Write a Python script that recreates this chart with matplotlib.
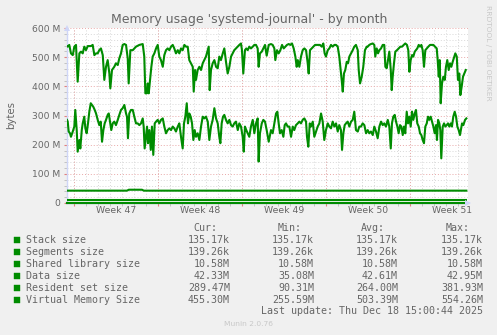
import matplotlib
matplotlib.use("Agg")
import matplotlib.pyplot as plt
import numpy as np
from matplotlib.patches import Rectangle

# ---------------- data (days from left edge of graph, values in MB) ----------------
vms_days = [0.0, 0.06, 0.19, 0.33, 0.48, 0.61, 0.75, 0.89, 1.03, 1.17, 1.31, 1.44, 1.58, 1.73,
            2.0, 2.14, 2.28, 2.42, 2.56, 2.69, 2.83, 2.98, 3.11, 3.25, 3.39, 3.53, 3.61, 3.75,
            3.94, 4.08, 4.23, 4.36, 4.5, 4.64, 4.78, 4.92, 5.06, 5.14, 5.28, 5.48, 5.75, 6.03,
            6.31, 6.44, 6.53, 6.64, 6.73, 6.81, 6.92, 7.03, 7.14, 7.28, 7.42, 7.56, 7.69, 7.83,
            7.98, 8.11, 8.25, 8.39, 8.53, 8.67, 8.81, 8.94, 9.08, 9.23, 9.36, 9.5, 9.64, 9.78,
            9.92, 10.06, 10.19, 10.33, 10.48, 10.56, 10.67, 10.75, 10.89, 11.03, 11.17, 11.31,
            11.44, 11.58, 11.73, 11.81, 11.89, 12.0, 12.14, 12.28, 12.42, 12.56, 12.69, 12.83,
            12.98, 13.11, 13.25, 13.39, 13.53, 13.67, 13.81, 13.94, 14.08, 14.23, 14.36, 14.5,
            14.58, 14.69, 14.83, 14.94, 15.06, 15.19, 15.33, 15.48, 15.61, 15.75, 15.89, 15.97,
            16.08, 16.23, 16.36, 16.5, 16.64, 16.81, 17.0, 17.14, 17.28, 17.36, 17.5, 17.64,
            17.78, 17.92, 18.06, 18.19, 18.33, 18.48, 18.61, 18.75, 18.89, 19.03, 19.14, 19.23,
            19.36, 19.5, 19.64, 19.78, 19.92, 20.06, 20.14, 20.25, 20.39, 20.53, 20.67, 20.81,
            20.94, 21.08, 21.23, 21.36, 21.47, 21.58, 21.73, 21.86, 22.0, 22.14, 22.28, 22.42,
            22.56, 22.69, 22.78, 22.89, 22.98, 23.08, 23.19, 23.31, 23.42, 23.53, 23.67, 23.81,
            23.94, 24.08, 24.23, 24.31, 24.42, 24.56, 24.69, 24.83, 24.98, 25.06, 25.19, 25.33,
            25.48, 25.61, 25.69, 25.81, 25.92, 26.03, 26.17, 26.31, 26.44, 26.53, 26.64, 26.75,
            26.86, 26.98, 27.06, 27.14, 27.25, 27.36, 27.5, 27.64, 27.78, 27.92, 28.06, 28.19,
            28.33, 28.44, 28.53, 28.64, 28.75, 28.86, 28.98, 29.08, 29.19, 29.31, 29.42, 29.53,
            29.64, 29.75, 29.86, 29.98, 30.11, 30.25, 30.39, 30.53, 30.67, 30.81, 30.89, 30.98,
            31.06, 31.14, 31.25, 31.36, 31.48, 31.58, 31.69, 31.81, 31.92, 32.03, 32.14, 32.28,
            32.36, 32.48, 32.58, 32.69, 32.78, 32.89, 33.0, 33.11, 33.23]
vms_mb = [538, 536, 542, 513, 507, 536, 542, 416, 513, 519, 513, 536, 524, 538,
          538, 542, 507, 513, 513, 524, 530, 507, 422, 467, 490, 444, 393, 456,
          467, 479, 473, 496, 513, 542, 545, 542, 496, 410, 524, 524, 536, 542,
          545, 502, 376, 376, 410, 376, 422, 467, 502, 513, 530, 542, 502, 490,
          467, 507, 524, 530, 524, 536, 542, 530, 513, 524, 513, 530, 524, 542,
          536, 536, 490, 479, 467, 382, 456, 422, 456, 467, 456, 479,
          490, 502, 524, 536, 387, 456, 479, 490, 467, 462, 502, 490,
          513, 530, 484, 444, 467, 502, 513, 524, 530, 536, 542, 547,
          524, 444, 524, 530, 524, 536, 530, 536, 542, 542, 530, 467,
          513, 519, 530, 542, 505, 542, 545, 542, 530, 490, 524, 513,
          524, 542, 530, 536, 542, 545, 542, 547, 530, 502, 467, 490,
          467, 502, 524, 530, 524, 479, 444, 524, 530, 536, 542, 542,
          542, 542, 536, 547, 513, 502, 524, 530, 542, 536, 542, 542,
          536, 502, 467, 422, 382, 444, 456, 484, 479, 502, 513, 524,
          536, 542, 524, 456, 410, 433, 467, 524, 536, 536, 542, 545,
          547, 542, 502, 530, 513, 524, 530, 542, 542, 467, 462, 490,
          519, 456, 387, 433, 479, 519, 524, 530, 536, 536, 542, 547,
          542, 524, 450, 490, 507, 502, 519, 524, 530, 542, 536, 542,
          524, 467, 524, 530, 536, 542, 542, 542, 536, 530, 490, 433,
          490, 342, 410, 433, 422, 467, 490, 456, 479, 467, 484, 502,
          513, 502, 422, 444, 370, 399, 433, 444, 456]

rss_days = [0.0, 0.06, 0.14, 0.25, 0.33, 0.48, 0.61, 0.69, 0.81, 0.89, 1.03, 1.11, 1.23, 1.31,
            1.44, 1.53, 1.64, 1.75, 1.86, 1.98, 2.08, 2.19, 2.31, 2.42, 2.56, 2.69, 2.81, 2.92,
            3.03, 3.14, 3.25, 3.39, 3.48, 3.58, 3.69, 3.81, 3.94, 4.08, 4.23, 4.36, 4.5, 4.64,
            4.78, 4.92, 5.0, 5.08, 5.19, 5.33, 5.48, 5.61, 5.75, 5.89, 6.03, 6.17, 6.31, 6.39,
            6.47, 6.58, 6.67, 6.75, 6.86, 6.98, 7.08, 7.19, 7.31, 7.42, 7.56, 7.69, 7.83, 7.98,
            8.11, 8.25, 8.39, 8.53, 8.67, 8.81, 8.94, 9.08, 9.23, 9.36, 9.5, 9.64, 9.75, 9.86,
            9.98, 10.08, 10.19, 10.31, 10.42, 10.53, 10.64, 10.75, 10.89, 11.03, 11.17, 11.31,
            11.44, 11.58, 11.73, 11.86, 12.0, 12.14, 12.28, 12.42, 12.56, 12.69, 12.78, 12.89,
            13.0, 13.11, 13.25, 13.39, 13.53, 13.67, 13.81, 13.94, 14.08, 14.23, 14.36, 14.5,
            14.64, 14.73, 14.83, 14.94, 15.06, 15.19, 15.33, 15.48, 15.61, 15.75, 15.89, 15.97,
            16.08, 16.23, 16.36, 16.5, 16.64, 16.81, 17.0, 17.14, 17.28, 17.42, 17.53, 17.64,
            17.75, 17.89, 18.03, 18.14, 18.25, 18.39, 18.53, 18.67, 18.81, 18.94, 19.08, 19.23,
            19.36, 19.5, 19.64, 19.78, 19.92, 20.0, 20.11, 20.23, 20.33, 20.48, 20.61, 20.75,
            20.89, 21.03, 21.17, 21.31, 21.44, 21.58, 21.73, 21.86, 22.0, 22.14, 22.28, 22.42,
            22.56, 22.69, 22.83, 22.92, 23.03, 23.14, 23.25, 23.39, 23.53, 23.67, 23.81, 23.94,
            24.08, 24.23, 24.36, 24.5, 24.64, 24.78, 24.92, 25.06, 25.19, 25.33, 25.48, 25.61,
            25.75, 25.89, 26.03, 26.17, 26.31, 26.44, 26.58, 26.73, 26.86, 26.98, 27.08, 27.19,
            27.31, 27.42, 27.53, 27.64, 27.75, 27.86, 27.98, 28.08, 28.19, 28.31, 28.42, 28.53,
            28.64, 28.75, 28.86, 28.98, 29.08, 29.19, 29.31, 29.42, 29.53, 29.64, 29.75, 29.86,
            29.98, 30.08, 30.19, 30.31, 30.42, 30.53, 30.64, 30.75, 30.83, 30.92, 31.03, 31.11,
            31.19, 31.31, 31.42, 31.53, 31.64, 31.75, 31.86, 31.98, 32.08, 32.19, 32.31, 32.42,
            32.53, 32.64, 32.75, 32.92, 33.03, 33.17, 33.28]
rss_mb = [285, 279, 245, 239, 227, 245, 262, 319, 250, 176, 216, 187, 250, 273,
          296, 256, 239, 273, 313, 342, 336, 330, 319, 307, 285, 267, 279, 210,
          250, 273, 285, 302, 307, 279, 250, 273, 279, 267, 285, 302, 319, 325,
          336, 307, 296, 222, 307, 319, 319, 296, 273, 273, 267, 273, 290, 262,
          187, 227, 262, 205, 250, 182, 262, 165, 273, 279, 285, 273, 285, 290,
          262, 239, 250, 256, 250, 262, 256, 245, 262, 273, 227, 187, 273, 296,
          342, 273, 307, 296, 273, 216, 250, 227, 239, 216, 262, 296,
          290, 296, 279, 216, 262, 285, 325, 290, 273, 227, 205, 273,
          296, 302, 285, 273, 285, 267, 262, 273, 279, 250, 273, 262,
          227, 176, 262, 250, 239, 227, 262, 285, 239, 273, 290, 142,
          239, 273, 285, 279, 250, 210, 250, 239, 273, 307, 313, 273,
          239, 250, 227, 267, 273, 262, 262, 227, 262, 250, 267, 273,
          279, 273, 285, 290, 279, 227, 193, 273, 262, 279, 227, 245,
          262, 273, 307, 279, 216, 250, 273, 262, 256, 279, 262, 273,
          245, 267, 250, 182, 239, 267, 273, 279, 262, 279, 285, 313,
          250, 245, 262, 262, 273, 267, 239, 250, 239, 245, 233, 262,
          245, 222, 262, 279, 267, 273, 262, 285, 262, 187, 273, 296,
          302, 279, 262, 239, 267, 262, 233, 262, 239, 313, 273, 296,
          262, 313, 285, 307, 319, 273, 262, 239, 233, 216, 205, 262,
          273, 296, 285, 296, 279, 262, 239, 267, 216, 285, 273, 250,
          153, 262, 273, 262, 267, 273, 262, 273, 262, 296, 313, 296,
          262, 250, 233, 273, 267, 285, 290]

data_days = [0.0, 5.0, 5.15, 6.25, 6.4, 33.28]
data_mb = [42.33, 42.33, 45.5, 45.5, 42.33, 42.33]

flat_days = [0.0, 33.28]
shared_mb = [10.58, 10.58]
segments_mb = [0.139, 0.139]
stack_mb = [0.135, 0.135]

week_bounds = [0.583, 7.583, 14.583, 21.583, 28.583]
week_labels = ["Week 47", "Week 48", "Week 49", "Week 50", "Week 51"]
y_ticks = [0, 100, 200, 300, 400, 500, 600]
y_labels = ["0", "100 M", "200 M", "300 M", "400 M", "500 M", "600 M"]

legend_names = ["Stack size", "Segments size", "Shared library size", "Data size",
                "Resident set size", "Virtual Memory Size"]
legend_cur = ["135.17k", "139.26k", "10.58M", "42.33M", "289.47M", "455.30M"]
legend_min = ["135.17k", "139.26k", "10.58M", "35.08M", "90.31M", "255.59M"]
legend_avg = ["135.17k", "139.26k", "10.58M", "42.61M", "264.00M", "503.39M"]
legend_max = ["135.17k", "139.26k", "10.58M", "42.95M", "381.93M", "554.26M"]

# ---------------- styling ----------------
W, H = 497, 335
BG = "#F0F0F0"
GREEN = "#008C00"
FONT = "#666666"
AXIS = "#CFD6F8"
MGRID = "#E8A8A8"
GRID = "#D8D8D8"

def fx(px):
    return px / W

def fy(py):
    return 1 - py / H

fig = plt.figure(figsize=(W / 100, H / 100), dpi=100, facecolor=BG)
ax = fig.add_axes([fx(67), fy(203), (468 - 67) / W, (203 - 28) / H])
ax.set_facecolor("white")
ax.set_xlim(0, 401 / 12)
ax.set_ylim(0, 600)

# grid
for d in np.arange(week_bounds[0], 401 / 12, 1.0):
    ax.axvline(d, color=GRID, lw=0.7, ls=(0, (1, 2)), zorder=1)
for v in range(20, 601, 20):
    if v % 100:
        ax.axhline(v, color=GRID, lw=0.7, ls=(0, (1, 2)), zorder=1)
for d in week_bounds:
    ax.axvline(d, color=MGRID, lw=0.7, ls=(0, (1, 2)), zorder=1.5)
for v in y_ticks[1:]:
    ax.axhline(v, color=MGRID, lw=0.7, ls=(0, (1, 2)), zorder=1.5)

# series
lw = 1.5
ax.plot(flat_days, stack_mb, color=GREEN, lw=lw, zorder=3, clip_on=False)
ax.plot(flat_days, segments_mb, color=GREEN, lw=lw, zorder=3, clip_on=False)
ax.plot(flat_days, shared_mb, color=GREEN, lw=lw, zorder=3)
ax.plot(data_days, data_mb, color=GREEN, lw=lw, zorder=3)
ax.plot(rss_days, rss_mb, color=GREEN, lw=lw, zorder=3)
ax.plot(vms_days, vms_mb, color=GREEN, lw=lw, zorder=3)

# spines / axes
for s in ["top", "right"]:
    ax.spines[s].set_visible(False)
for s in ["left", "bottom"]:
    ax.spines[s].set_color(AXIS)
    ax.spines[s].set_linewidth(1.0)
ax.spines["bottom"].set_zorder(2)
ax.plot([0], [1.0], marker="^", color=AXIS, markersize=4, transform=ax.transAxes,
        clip_on=False, zorder=4, markeredgewidth=0)
ax.plot([1.0], [0], marker=">", color=AXIS, markersize=4, transform=ax.transAxes,
        clip_on=False, zorder=4, markeredgewidth=0)

ax.set_xticks(week_bounds)
ax.set_xticklabels([])
ax.set_xticks(np.arange(week_bounds[0], 401 / 12, 1.0), minor=True)
ax.tick_params(axis="x", which="major", length=2, color="#E08080", width=0.8)
ax.tick_params(axis="x", which="minor", length=2, color="#BBBBBB", width=0.6)
ax.set_yticks(y_ticks)
ax.set_yticklabels(y_labels)
ax.set_yticks(range(0, 601, 20), minor=True)
ax.tick_params(axis="y", which="major", length=2, color="#E08080", width=0.8,
               labelsize=6.6, labelcolor=FONT, pad=3)
ax.tick_params(axis="y", which="minor", length=2, color="#BBBBBB", width=0.6)

for b, lab in zip(week_bounds, week_labels):
    ax.text(b + 3.5, -0.045, lab, transform=ax.get_xaxis_transform(), ha="center",
            va="center", fontsize=6.7, color=FONT)

# texts
fig.text(fx(249), fy(19), "Memory usage 'systemd-journal' - by month", ha="center",
         va="center", fontsize=9, color=FONT)
fig.text(fx(11), fy(115), "bytes", rotation=90, ha="center", va="center", fontsize=7.3,
         color=FONT)
fig.text(fx(488), fy(5), "RRDTOOL / TOBI OETIKER", rotation=270, ha="center", va="top",
         fontsize=5.4, color="#C8C8C8")

mono = "DejaVu Sans Mono"
fs = 7.2
heads = ["Cur:", "Min:", "Avg:", "Max:"]
head_x = [217, 302, 385, 470]
val_x = [230, 314, 398, 483]
for h, x in zip(heads, head_x):
    fig.text(fx(x), fy(228), h, ha="right", va="center", family=mono, fontsize=fs,
             color=FONT)
cols = [legend_cur, legend_min, legend_avg, legend_max]
for i, name in enumerate(legend_names):
    yy = 240 + 12 * i
    fig.patches.append(Rectangle((fx(14), fy(yy + 3)), 6 / W, 6 / H, transform=fig.transFigure,
                                 facecolor=GREEN, edgecolor=GREEN, lw=0.3))
    fig.text(fx(26), fy(yy), name, ha="left", va="center", family=mono, fontsize=fs,
             color=FONT)
    for col, x in zip(cols, val_x):
        fig.text(fx(x), fy(yy), col[i], ha="right", va="center", family=mono, fontsize=fs,
                 color=FONT)
fig.text(fx(483), fy(311), "Last update: Thu Dec 18 15:00:44 2025", ha="right", va="center",
         family=mono, fontsize=fs, color=FONT)
fig.text(fx(248), fy(324), "Munin 2.0.76", ha="center", va="center", fontsize=5.4,
         color="#C8C8C8")

fig.savefig("out.png", dpi=100, facecolor=BG)
